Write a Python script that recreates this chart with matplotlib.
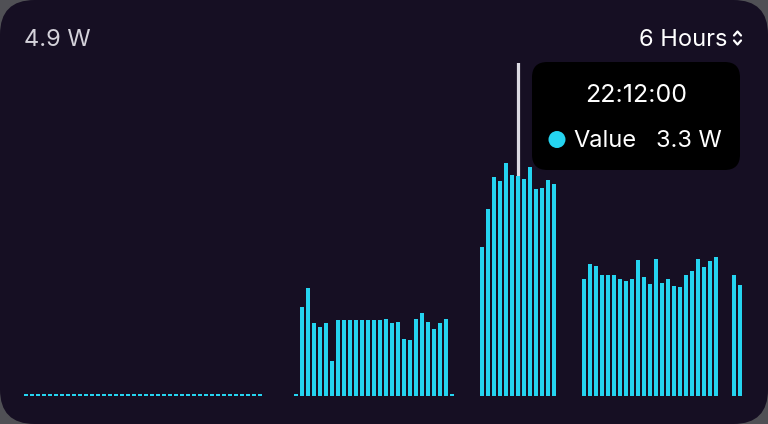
import numpy as np
import matplotlib
matplotlib.use("Agg")
import matplotlib.pyplot as plt
from matplotlib.patches import FancyBboxPatch, Ellipse
from matplotlib.lines import Line2D

plt.rcParams['font.family'] = ['Inter', 'DejaVu Sans']

nan = np.nan
# 120 samples (3-minute buckets over 6 hours), W
idle = [0.03] * 40
gap1 = [nan] * 5
group2 = [1.33, 1.62, 1.09, 1.04, 1.10, 0.52, 1.14, 1.14, 1.14, 1.14, 1.14, 1.14, 1.14,
          1.14, 1.15, 1.10, 1.11, 0.85, 0.84, 1.16, 1.25, 1.11, 1.00, 1.10, 1.16]
gap2 = [nan] * 4
group3 = [2.24, 2.80, 3.29, 3.22, 3.50, 3.31, 3.30, 3.26, 3.43, 3.11, 3.12, 3.24, 3.18]
gap3 = [nan] * 4
group4 = [1.76, 1.98, 1.95, 1.81, 1.81, 1.81, 1.75, 1.73, 1.76, 2.04, 1.79, 1.68, 2.05,
          1.69, 1.75, 1.65, 1.64, 1.82, 1.88, 2.05, 1.94, 2.02, 2.08]
gap4 = [nan] * 2
group5 = [1.82, 1.66]
values = np.array(idle + gap1 + [0.03] + group2 + [0.03] + gap2 + group3 + gap3 + group4 + gap4 + group5)

header_value = "4.9 W"
range_label = "6 Hours"
hover_index = 82
hover_time = "22:12:00"
hover_label = "Value"
hover_value = "3.3 W"
y_max = 5.0

W, H = 768, 424
BG_OUT = '#505055'
CARD = '#160f23'
BAR = '#25d4f0'

fig = plt.figure(figsize=(W / 100, H / 100), dpi=100, facecolor=BG_OUT)

def fx(px):
    return px / W

def fy(py):
    return 1 - py / H

card = FancyBboxPatch((0, 0), 1, 1, boxstyle="round,pad=0,rounding_size=0.045",
                      transform=fig.transFigure, facecolor=CARD, edgecolor='none',
                      mutation_aspect=W / H, zorder=-10)
fig.patches.append(card)

ax = fig.add_axes([fx(24), fy(396), fx(720), (396 - 62.5) / H])
ax.set_facecolor('none')
x = np.arange(len(values))
ax.bar(x, values, width=0.667, align='edge', color=BAR, zorder=2)
ax.axvline(hover_index + 0.333, color='#dcdae2', lw=2.3, zorder=1)
ax.set_xlim(0, len(values))
ax.set_ylim(0, y_max)
ax.axis('off')

FS = 17
fig.text(fx(24), fy(46.5), header_value, fontsize=FS, color='#d4d2da', va='baseline', ha='left')
fig.text(fx(727), fy(46.5), range_label, fontsize=FS, color='white', va='baseline', ha='right')
# chevrons
for ys in [(35.5, 31.5, 35.5), (40.5, 44.5, 40.5)]:
    fig.add_artist(Line2D([fx(734), fx(737.5), fx(741)], [fy(ys[0]), fy(ys[1]), fy(ys[2])],
                          color='white', lw=1.6, solid_capstyle='round', solid_joinstyle='round'))

# tooltip
tip = FancyBboxPatch((fx(532), fy(170)), fx(208), (170 - 62) / H,
                     boxstyle="round,pad=0,rounding_size=0.02", transform=fig.transFigure,
                     facecolor='black', edgecolor='none', mutation_aspect=W / H, zorder=5)
fig.patches.append(tip)
fig.text(fx(636), fy(102), hover_time, fontsize=18, color='white', ha='center', va='baseline', zorder=6)
fig.add_artist(Ellipse((fx(557), fy(139.5)), 17 / W, 17 / H, transform=fig.transFigure,
                       facecolor=BAR, edgecolor='none', zorder=6))
fig.text(fx(573), fy(147), hover_label, fontsize=FS, color='white', ha='left', va='baseline', zorder=6)
fig.text(fx(722), fy(147), hover_value, fontsize=FS, color='white', ha='right', va='baseline', zorder=6)

fig.savefig('out.png', dpi=100, facecolor=fig.get_facecolor())
